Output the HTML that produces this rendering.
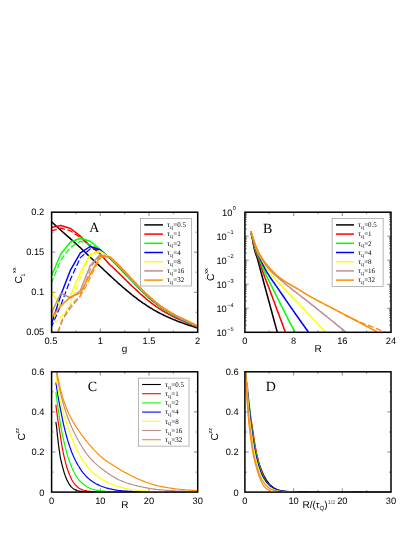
<!DOCTYPE html>
<html><head><meta charset="utf-8"><title>figure</title>
<style>html,body{margin:0;padding:0;background:#fff;}svg{display:block;}text{fill:#000;text-rendering:geometricPrecision;filter:grayscale(1);}.s{font-family:"Liberation Sans",sans-serif;}.t{font-family:"Liberation Serif",serif;}</style>
</head><body>
<svg width="415" height="537" viewBox="0 0 415 537">
<defs>
<clipPath id="cA"><rect x="51.6" y="212.2" width="146.1" height="120.10000000000002"/></clipPath>
<clipPath id="cB"><rect x="244.9" y="212.2" width="146.1" height="120.10000000000002"/></clipPath>
<clipPath id="cC"><rect x="51.6" y="371.8" width="146.1" height="120.30000000000001"/></clipPath>
<clipPath id="cD"><rect x="244.9" y="371.8" width="146.1" height="120.30000000000001"/></clipPath>
</defs>
<rect width="415" height="537" fill="#fff"/>
<path d="M100.3,332.3 v-3.8 M100.3,212.2 v3.8 M149.0,332.3 v-3.8 M149.0,212.2 v3.8 M76.0,332.3 v-2.0 M76.0,212.2 v2.0 M124.7,332.3 v-2.0 M124.7,212.2 v2.0 M173.3,332.3 v-2.0 M173.3,212.2 v2.0 M51.6,292.3 h3.8 M197.7,292.3 h-3.8 M51.6,252.2 h3.8 M197.7,252.2 h-3.8 M51.6,312.3 h2.0 M197.7,312.3 h-2.0 M51.6,272.2 h2.0 M197.7,272.2 h-2.0 M51.6,232.2 h2.0 M197.7,232.2 h-2.0" stroke="#000" stroke-width="0.45" fill="none"/>
<g clip-path="url(#cA)">
<path d="M51.0,221.3 L60.8,230.2 L70.6,238.9 L80.4,247.8 L90.2,257.2 L91.6,258.5 L93.0,259.7 L94.4,261.0 L95.8,262.3 L97.2,263.6 L98.6,264.9 L100.0,266.2 L101.4,267.5 L102.8,268.8 L104.2,270.2 L105.6,271.5 L107.0,272.8 L108.4,274.1 L109.8,275.4 L111.2,276.7 L112.6,278.0 L114.0,279.3 L115.4,280.5 L116.8,281.8 L118.2,283.1 L119.6,284.3 L121.0,285.5 L122.4,286.8 L123.8,288.0 L125.2,289.2 L126.6,290.4 L128.0,291.5 L129.4,292.7 L130.8,293.8 L132.2,295.0 L133.6,296.1 L135.0,297.2 L136.4,298.2 L137.8,299.3 L139.2,300.3 L140.6,301.3 L142.0,302.3 L143.4,303.3 L144.8,304.2 L146.2,305.2 L147.6,306.1 L149.0,307.0 L150.4,307.9 L151.8,308.7 L153.2,309.6 L154.6,310.4 L156.0,311.2 L157.4,312.0 L158.8,312.7 L160.2,313.4 L161.6,314.1 L163.0,314.8 L164.4,315.5 L165.8,316.1 L167.2,316.8 L168.6,317.4 L170.0,318.0 L171.4,318.6 L172.8,319.2 L174.2,319.8 L175.6,320.3 L177.0,320.9 L178.4,321.4 L179.8,321.9 L181.2,322.4 L182.6,323.0 L184.0,323.4 L185.4,323.9 L186.8,324.4 L188.2,324.9 L189.6,325.4 L191.0,325.8 L192.4,326.3 L193.8,326.8 L195.2,327.2 L196.6,327.7 L198.0,328.1 L198.0,328.1" fill="none" stroke="#000000" stroke-width="1.55" stroke-linejoin="round" />
<path d="M51.0,227.5 L60.8,225.4 L70.6,228.5 L80.4,236.2 L90.2,246.0 L100.0,253.7 L109.8,264.7 L111.2,266.0 L112.6,267.2 L114.0,268.5 L115.4,269.9 L116.8,271.2 L118.2,272.5 L119.6,273.9 L121.0,275.3 L122.4,276.6 L123.8,278.0 L125.2,279.4 L126.6,280.8 L128.0,282.1 L129.4,283.5 L130.8,284.9 L132.2,286.2 L133.6,287.5 L135.0,288.8 L136.4,290.1 L137.8,291.4 L139.2,292.7 L140.6,294.0 L142.0,295.2 L143.4,296.4 L144.8,297.6 L146.2,298.8 L147.6,300.0 L149.0,301.1 L150.4,302.2 L151.8,303.3 L153.2,304.3 L154.6,305.4 L156.0,306.4 L157.4,307.4 L158.8,308.3 L160.2,309.2 L161.6,310.1 L163.0,311.0 L164.4,311.8 L165.8,312.6 L167.2,313.4 L168.6,314.2 L170.0,314.9 L171.4,315.7 L172.8,316.4 L174.2,317.0 L175.6,317.7 L177.0,318.4 L178.4,319.0 L179.8,319.6 L181.2,320.2 L182.6,320.8 L184.0,321.4 L185.4,322.0 L186.8,322.6 L188.2,323.2 L189.6,323.8 L191.0,324.3 L192.4,324.9 L193.8,325.5 L195.2,326.1 L196.6,326.6 L198.0,327.2 L198.0,327.2" fill="none" stroke="#ff0000" stroke-width="1.55" stroke-linejoin="round" />
<path d="M51.0,230.9 L60.8,228.2 L70.6,230.9 L80.4,237.7 L90.2,246.3" fill="none" stroke="#ff0000" stroke-width="1.2" stroke-dasharray="6 2.4" stroke-linejoin="round" />
<path d="M51.0,277.0 L60.8,254.0 L70.6,242.0 L80.4,238.2 L90.2,241.2 L100.0,249.3 L109.8,258.5 L111.2,259.8 L112.6,261.2 L114.0,262.6 L115.4,264.0 L116.8,265.4 L118.2,266.9 L119.6,268.3 L121.0,269.8 L122.4,271.2 L123.8,272.7 L125.2,274.2 L126.6,275.6 L128.0,277.1 L129.4,278.6 L130.8,280.1 L132.2,281.6 L133.6,283.0 L135.0,284.5 L136.4,285.9 L137.8,287.4 L139.2,288.8 L140.6,290.2 L142.0,291.6 L143.4,292.9 L144.8,294.3 L146.2,295.6 L147.6,296.8 L149.0,298.1 L150.4,299.3 L151.8,300.5 L153.2,301.7 L154.6,302.8 L156.0,303.9 L157.4,305.0 L158.8,306.1 L160.2,307.1 L161.6,308.1 L163.0,309.1 L164.4,310.1 L165.8,311.0 L167.2,311.9 L168.6,312.8 L170.0,313.6 L171.4,314.5 L172.8,315.3 L174.2,316.0 L175.6,316.8 L177.0,317.5 L178.4,318.2 L179.8,318.9 L181.2,319.6 L182.6,320.2 L184.0,320.8 L185.4,321.5 L186.8,322.1 L188.2,322.7 L189.6,323.3 L191.0,323.9 L192.4,324.5 L193.8,325.1 L195.2,325.7 L196.6,326.3 L198.0,326.9 L198.0,326.9" fill="none" stroke="#00ff00" stroke-width="1.45" stroke-linejoin="round" />
<path d="M51.0,283.7 L60.8,260.1 L70.6,247.3 L80.4,241.3 L90.2,244.8 L100.0,249.6" fill="none" stroke="#00ff00" stroke-width="1.2" stroke-dasharray="6 2.4" stroke-linejoin="round" />
<path d="M51.0,325.5 L60.8,295.1 L70.6,269.8 L80.4,252.8 L90.2,246.5 L100.0,249.8 L109.8,258.0 L111.2,259.2 L112.6,260.5 L114.0,261.9 L115.4,263.2 L116.8,264.6 L118.2,266.1 L119.6,267.5 L121.0,269.0 L122.4,270.4 L123.8,271.9 L125.2,273.4 L126.6,274.9 L128.0,276.4 L129.4,277.9 L130.8,279.4 L132.2,280.8 L133.6,282.3 L135.0,283.7 L136.4,285.2 L137.8,286.6 L139.2,288.0 L140.6,289.4 L142.0,290.8 L143.4,292.1 L144.8,293.5 L146.2,294.8 L147.6,296.1 L149.0,297.4 L150.4,298.6 L151.8,299.9 L153.2,301.1 L154.6,302.2 L156.0,303.3 L157.4,304.4 L158.8,305.5 L160.2,306.5 L161.6,307.5 L163.0,308.5 L164.4,309.5 L165.8,310.4 L167.2,311.3 L168.6,312.2 L170.0,313.1 L171.4,313.9 L172.8,314.7 L174.2,315.5 L175.6,316.3 L177.0,317.1 L178.4,317.8 L179.8,318.5 L181.2,319.2 L182.6,319.9 L184.0,320.5 L185.4,321.2 L186.8,321.8 L188.2,322.4 L189.6,323.0 L191.0,323.6 L192.4,324.2 L193.8,324.8 L195.2,325.5 L196.6,326.1 L198.0,326.7 L198.0,326.7" fill="none" stroke="#0000ff" stroke-width="1.45" stroke-linejoin="round" />
<path d="M51.0,328.0 L60.8,305.2 L70.6,279.0 L80.4,257.6 L90.2,248.9 L100.0,250.0" fill="none" stroke="#0000ff" stroke-width="1.2" stroke-dasharray="6 2.4" stroke-linejoin="round" />
<path d="M51.0,290.8 L60.8,306.7 L70.6,295.5 L80.4,272.5 L90.2,254.2 L100.0,251.0 L109.8,257.5 L111.2,258.8 L112.6,260.1 L114.0,261.4 L115.4,262.8 L116.8,264.1 L118.2,265.6 L119.6,267.0 L121.0,268.5 L122.4,269.9 L123.8,271.4 L125.2,272.9 L126.6,274.4 L128.0,275.9 L129.4,277.4 L130.8,278.9 L132.2,280.4 L133.6,281.8 L135.0,283.3 L136.4,284.8 L137.8,286.2 L139.2,287.6 L140.6,289.0 L142.0,290.4 L143.4,291.7 L144.8,293.0 L146.2,294.3 L147.6,295.6 L149.0,296.9 L150.4,298.1 L151.8,299.4 L153.2,300.6 L154.6,301.7 L156.0,302.9 L157.4,304.0 L158.8,305.1 L160.2,306.2 L161.6,307.2 L163.0,308.2 L164.4,309.2 L165.8,310.1 L167.2,311.0 L168.6,311.9 L170.0,312.8 L171.4,313.6 L172.8,314.4 L174.2,315.2 L175.6,315.9 L177.0,316.7 L178.4,317.4 L179.8,318.1 L181.2,318.8 L182.6,319.4 L184.0,320.1 L185.4,320.7 L186.8,321.4 L188.2,322.0 L189.6,322.6 L191.0,323.3 L192.4,323.9 L193.8,324.5 L195.2,325.2 L196.6,325.8 L198.0,326.5 L198.0,326.5" fill="none" stroke="#ffff00" stroke-width="1.45" stroke-linejoin="round" />
<path d="M51.3,303.0 L55.9,322.5 L60.8,317.0 L65.7,311.5 L70.6,303.0 L75.5,291.0 L80.4,278.0 L85.3,266.0 L90.2,256.1 L100.0,251.8" fill="none" stroke="#ffff00" stroke-width="1.2" stroke-dasharray="6 2.4" stroke-linejoin="round" />
<path d="M51.0,313.9 L60.8,293.2 L70.6,298.0 L80.4,290.5 L90.2,265.6 L100.0,254.7 L109.8,257.2 L111.2,258.4 L112.6,259.7 L114.0,261.0 L115.4,262.3 L116.8,263.7 L118.2,265.1 L119.6,266.5 L121.0,267.9 L122.4,269.4 L123.8,270.9 L125.2,272.4 L126.6,273.9 L128.0,275.4 L129.4,276.9 L130.8,278.4 L132.2,279.9 L133.6,281.4 L135.0,282.9 L136.4,284.3 L137.8,285.8 L139.2,287.2 L140.6,288.6 L142.0,290.0 L143.4,291.4 L144.8,292.8 L146.2,294.1 L147.6,295.4 L149.0,296.7 L150.4,298.0 L151.8,299.2 L153.2,300.4 L154.6,301.6 L156.0,302.7 L157.4,303.8 L158.8,304.9 L160.2,305.9 L161.6,307.0 L163.0,307.9 L164.4,308.9 L165.8,309.8 L167.2,310.7 L168.6,311.6 L170.0,312.5 L171.4,313.3 L172.8,314.1 L174.2,314.9 L175.6,315.6 L177.0,316.4 L178.4,317.1 L179.8,317.8 L181.2,318.5 L182.6,319.2 L184.0,319.8 L185.4,320.5 L186.8,321.2 L188.2,321.8 L189.6,322.4 L191.0,323.1 L192.4,323.7 L193.8,324.4 L195.2,325.0 L196.6,325.6 L198.0,326.3 L198.0,326.3" fill="none" stroke="#bc8f8f" stroke-width="1.45" stroke-linejoin="round" />
<path d="M58.0,333.0 L63.0,319.5 L68.7,310.5 L76.0,301.4 L80.4,296.0 L85.0,284.0 L91.7,266.0 L98.0,258.0 L101.5,255.5" fill="none" stroke="#bc8f8f" stroke-width="1.2" stroke-dasharray="6 2.4" stroke-linejoin="round" />
<path d="M51.0,318.3 L60.8,305.7 L70.6,297.0 L80.4,292.9 L90.2,274.3 L100.0,256.6 L109.8,256.9 L111.2,258.0 L112.6,259.2 L114.0,260.4 L115.4,261.7 L116.8,263.0 L118.2,264.4 L119.6,265.8 L121.0,267.2 L122.4,268.7 L123.8,270.2 L125.2,271.7 L126.6,273.2 L128.0,274.7 L129.4,276.2 L130.8,277.7 L132.2,279.2 L133.6,280.7 L135.0,282.2 L136.4,283.7 L137.8,285.2 L139.2,286.6 L140.6,288.0 L142.0,289.4 L143.4,290.8 L144.8,292.2 L146.2,293.5 L147.6,294.8 L149.0,296.1 L150.4,297.4 L151.8,298.6 L153.2,299.8 L154.6,301.0 L156.0,302.2 L157.4,303.3 L158.8,304.4 L160.2,305.5 L161.6,306.5 L163.0,307.5 L164.4,308.4 L165.8,309.3 L167.2,310.2 L168.6,311.1 L170.0,311.9 L171.4,312.8 L172.8,313.5 L174.2,314.3 L175.6,315.1 L177.0,315.8 L178.4,316.5 L179.8,317.2 L181.2,317.9 L182.6,318.5 L184.0,319.2 L185.4,319.9 L186.8,320.5 L188.2,321.2 L189.6,321.9 L191.0,322.5 L192.4,323.2 L193.8,323.9 L195.2,324.7 L196.6,325.4 L198.0,326.2 L198.0,326.2" fill="none" stroke="#ff8c00" stroke-width="1.45" stroke-linejoin="round" />
<path d="M57.6,332.0 L62.5,318.7 L70.6,305.7 L80.4,295.6 L85.6,287.0 L91.7,274.5 L96.0,266.0 L101.0,257.5" fill="none" stroke="#ff8c00" stroke-width="1.2" stroke-dasharray="6 2.4" stroke-linejoin="round" />
</g>
<rect x="51.6" y="212.2" width="146.1" height="120.10000000000002" fill="none" stroke="#000" stroke-width="1.5"/>
<rect x="140.5" y="218.5" width="51" height="67.5" fill="#fff" stroke="#888" stroke-width="0.6"/>
<path d="M144.3,224.9 H162.9" stroke="#000000" stroke-width="1.5"/>
<text x="167.1" y="227.2" font-size="7" fill="#222" class="t"><tspan font-size="7.6">τ</tspan><tspan font-size="4.7" dy="1.8" dx="-0.3">Q</tspan><tspan dy="-1.8" dx="0.1">=0.5</tspan></text>
<path d="M144.3,234.1 H162.9" stroke="#ff0000" stroke-width="1.5"/>
<text x="167.1" y="236.4" font-size="7" fill="#222" class="t"><tspan font-size="7.6">τ</tspan><tspan font-size="4.7" dy="1.8" dx="-0.3">Q</tspan><tspan dy="-1.8" dx="0.1">=1</tspan></text>
<path d="M144.3,243.3 H162.9" stroke="#00ff00" stroke-width="1.5"/>
<text x="167.1" y="245.6" font-size="7" fill="#222" class="t"><tspan font-size="7.6">τ</tspan><tspan font-size="4.7" dy="1.8" dx="-0.3">Q</tspan><tspan dy="-1.8" dx="0.1">=2</tspan></text>
<path d="M144.3,252.5 H162.9" stroke="#0000ff" stroke-width="1.5"/>
<text x="167.1" y="254.8" font-size="7" fill="#222" class="t"><tspan font-size="7.6">τ</tspan><tspan font-size="4.7" dy="1.8" dx="-0.3">Q</tspan><tspan dy="-1.8" dx="0.1">=4</tspan></text>
<path d="M144.3,261.7 H162.9" stroke="#ffff00" stroke-width="1.5"/>
<text x="167.1" y="264.0" font-size="7" fill="#222" class="t"><tspan font-size="7.6">τ</tspan><tspan font-size="4.7" dy="1.8" dx="-0.3">Q</tspan><tspan dy="-1.8" dx="0.1">=8</tspan></text>
<path d="M144.3,270.9 H162.9" stroke="#bc8f8f" stroke-width="1.5"/>
<text x="167.1" y="273.2" font-size="7" fill="#222" class="t"><tspan font-size="7.6">τ</tspan><tspan font-size="4.7" dy="1.8" dx="-0.3">Q</tspan><tspan dy="-1.8" dx="0.1">=16</tspan></text>
<path d="M144.3,280.1 H162.9" stroke="#ff8c00" stroke-width="1.5"/>
<text x="167.1" y="282.4" font-size="7" fill="#222" class="t"><tspan font-size="7.6">τ</tspan><tspan font-size="4.7" dy="1.8" dx="-0.3">Q</tspan><tspan dy="-1.8" dx="0.1">=32</tspan></text>
<text x="50.9" y="343.9" font-size="9.3" text-anchor="middle" class="s" >0.5</text>
<text x="100.3" y="343.9" font-size="9.3" text-anchor="middle" class="s" >1</text>
<text x="149.0" y="343.9" font-size="9.3" text-anchor="middle" class="s" >1.5</text>
<text x="197.7" y="343.9" font-size="9.3" text-anchor="middle" class="s" >2</text>
<text x="44.3" y="335.4" font-size="9.3" text-anchor="end" class="s" >0.05</text>
<text x="44.3" y="295.4" font-size="9.3" text-anchor="end" class="s" >0.1</text>
<text x="44.3" y="255.3" font-size="9.3" text-anchor="end" class="s" >0.15</text>
<text x="44.3" y="215.3" font-size="9.3" text-anchor="end" class="s" >0.2</text>
<text x="124.5" y="352" font-size="10" text-anchor="middle" class="s" >g</text>
<g transform="translate(22.3,283.4) rotate(-90)"><text font-size="10.2" class="s">C</text><text x="7.0" y="2.5" font-size="5.4" class="s">1</text><text x="10.3" y="-6.3" font-size="5.5" class="s">xx</text></g>
<text x="94.2" y="231.8" font-size="14" text-anchor="middle" class="t" >A</text>
<path d="M293.6,332.3 v-3.8 M293.6,212.2 v3.8 M342.3,332.3 v-3.8 M342.3,212.2 v3.8 M269.2,332.3 v-2.0 M269.2,212.2 v2.0 M318.0,332.3 v-2.0 M318.0,212.2 v2.0 M366.6,332.3 v-2.0 M366.6,212.2 v2.0 M244.9,236.2 h3.8 M391,236.2 h-3.8 M244.9,260.2 h3.8 M391,260.2 h-3.8 M244.9,284.3 h3.8 M391,284.3 h-3.8 M244.9,308.3 h3.8 M391,308.3 h-3.8 M244.9,325.1 h2.0 M391,325.1 h-2.0 M244.9,320.8 h2.0 M391,320.8 h-2.0 M244.9,317.8 h2.0 M391,317.8 h-2.0 M244.9,315.5 h2.0 M391,315.5 h-2.0 M244.9,313.6 h2.0 M391,313.6 h-2.0 M244.9,312.0 h2.0 M391,312.0 h-2.0 M244.9,310.6 h2.0 M391,310.6 h-2.0 M244.9,309.4 h2.0 M391,309.4 h-2.0 M244.9,301.0 h2.0 M391,301.0 h-2.0 M244.9,296.8 h2.0 M391,296.8 h-2.0 M244.9,293.8 h2.0 M391,293.8 h-2.0 M244.9,291.5 h2.0 M391,291.5 h-2.0 M244.9,289.6 h2.0 M391,289.6 h-2.0 M244.9,288.0 h2.0 M391,288.0 h-2.0 M244.9,286.6 h2.0 M391,286.6 h-2.0 M244.9,285.4 h2.0 M391,285.4 h-2.0 M244.9,277.0 h2.0 M391,277.0 h-2.0 M244.9,272.8 h2.0 M391,272.8 h-2.0 M244.9,269.8 h2.0 M391,269.8 h-2.0 M244.9,267.5 h2.0 M391,267.5 h-2.0 M244.9,265.6 h2.0 M391,265.6 h-2.0 M244.9,264.0 h2.0 M391,264.0 h-2.0 M244.9,262.6 h2.0 M391,262.6 h-2.0 M244.9,261.3 h2.0 M391,261.3 h-2.0 M244.9,253.0 h2.0 M391,253.0 h-2.0 M244.9,248.8 h2.0 M391,248.8 h-2.0 M244.9,245.8 h2.0 M391,245.8 h-2.0 M244.9,243.5 h2.0 M391,243.5 h-2.0 M244.9,241.5 h2.0 M391,241.5 h-2.0 M244.9,239.9 h2.0 M391,239.9 h-2.0 M244.9,238.5 h2.0 M391,238.5 h-2.0 M244.9,237.3 h2.0 M391,237.3 h-2.0 M244.9,229.0 h2.0 M391,229.0 h-2.0 M244.9,224.8 h2.0 M391,224.8 h-2.0 M244.9,221.8 h2.0 M391,221.8 h-2.0 M244.9,219.4 h2.0 M391,219.4 h-2.0 M244.9,217.5 h2.0 M391,217.5 h-2.0 M244.9,215.9 h2.0 M391,215.9 h-2.0 M244.9,214.5 h2.0 M391,214.5 h-2.0 M244.9,213.3 h2.0 M391,213.3 h-2.0" stroke="#000" stroke-width="0.45" fill="none"/>
<g clip-path="url(#cB)">
<path d="M250.8,231.3 L251.1,232.8 L251.4,234.3 L251.7,235.8 L252.0,237.3 L252.4,238.8 L252.7,240.3 L253.0,241.8 L253.2,243.3 L253.5,244.8 L253.8,246.3 L254.1,247.8 L254.4,249.3 L254.8,250.8 L255.2,252.3 L255.7,253.7 L256.2,255.2 L256.7,256.6 L257.2,258.1 L257.7,259.5 L258.1,261.0 L258.5,262.5 L258.9,264.0 L259.2,265.5 L259.6,266.9 L260.0,268.4 L260.4,269.9 L260.8,271.4 L261.2,272.9 L261.6,274.4 L262.0,275.8 L262.4,277.3 L262.8,278.8 L263.2,280.3 L263.6,281.7 L264.0,283.2 L264.4,284.7 L264.8,286.2 L265.2,287.7 L265.6,289.1 L266.0,290.6 L266.4,292.1 L266.8,293.6 L267.2,295.0 L267.6,296.5 L268.0,298.0 L268.4,299.5 L268.8,301.0 L269.2,302.4 L269.6,303.9 L270.0,305.4 L270.4,306.9 L270.8,308.4 L271.2,309.8 L271.6,311.3 L272.0,312.8 L272.4,314.3 L272.8,315.7 L273.2,317.2 L273.6,318.7 L274.0,320.2 L274.4,321.7 L274.8,323.1 L275.2,324.6 L275.6,326.1 L276.0,327.6 L276.4,329.0 L276.8,330.5 L277.2,332.0" fill="none" stroke="#000000" stroke-width="1.55" stroke-linejoin="round" />
<path d="M250.8,231.3 L251.2,232.8 L251.5,234.3 L251.9,235.7 L252.2,237.2 L252.6,238.7 L252.9,240.2 L253.3,241.7 L253.6,243.2 L253.9,244.7 L254.2,246.2 L254.5,247.6 L254.9,249.1 L255.3,250.6 L255.8,252.0 L256.3,253.4 L256.9,254.8 L257.5,256.2 L258.1,257.7 L258.7,259.1 L259.2,260.5 L259.7,261.9 L260.1,263.4 L260.6,264.9 L261.0,266.3 L261.5,267.8 L261.9,269.2 L262.4,270.7 L262.9,272.1 L263.4,273.5 L264.0,274.9 L264.5,276.4 L265.0,277.8 L265.6,279.2 L266.1,280.6 L266.7,282.1 L267.2,283.5 L267.8,284.9 L268.3,286.3 L268.9,287.8 L269.4,289.2 L269.9,290.6 L270.5,292.0 L271.0,293.5 L271.5,294.9 L272.1,296.3 L272.6,297.7 L273.1,299.2 L273.7,300.6 L274.2,302.0 L274.7,303.4 L275.2,304.9 L275.8,306.3 L276.3,307.7 L276.8,309.2 L277.4,310.6 L277.9,312.0 L278.4,313.4 L279.0,314.9 L279.5,316.3 L280.0,317.7 L280.5,319.1 L281.1,320.6 L281.6,322.0 L282.1,323.4 L282.7,324.9 L283.2,326.3 L283.7,327.7 L284.2,329.1 L284.8,330.6 L285.3,332.0" fill="none" stroke="#ff0000" stroke-width="1.55" stroke-linejoin="round" />
<path d="M250.8,231.3 L251.2,232.8 L251.6,234.3 L252.0,235.7 L252.4,237.2 L252.8,238.7 L253.1,240.2 L253.5,241.7 L253.9,243.2 L254.2,244.7 L254.6,246.2 L254.9,247.7 L255.3,249.1 L255.8,250.6 L256.3,252.0 L256.9,253.4 L257.5,254.8 L258.2,256.2 L258.8,257.6 L259.5,259.0 L260.1,260.4 L260.6,261.8 L261.2,263.3 L261.7,264.7 L262.3,266.1 L262.8,267.6 L263.4,269.0 L264.0,270.4 L264.6,271.8 L265.2,273.2 L265.9,274.6 L266.5,276.0 L267.2,277.3 L267.8,278.7 L268.5,280.1 L269.2,281.5 L269.9,282.8 L270.6,284.2 L271.3,285.6 L272.0,286.9 L272.7,288.3 L273.3,289.7 L274.0,291.1 L274.7,292.4 L275.4,293.8 L276.1,295.2 L276.8,296.5 L277.4,297.9 L278.1,299.3 L278.8,300.7 L279.5,302.0 L280.2,303.4 L280.9,304.8 L281.6,306.1 L282.3,307.5 L283.0,308.9 L283.6,310.2 L284.3,311.6 L285.0,313.0 L285.7,314.3 L286.4,315.7 L287.1,317.0 L287.8,318.4 L288.5,319.8 L289.2,321.1 L289.9,322.5 L290.6,323.9 L291.3,325.2 L292.1,326.6 L292.8,327.9 L293.5,329.3 L294.2,330.6 L294.9,332.0" fill="none" stroke="#00ff00" stroke-width="1.55" stroke-linejoin="round" />
<path d="M250.8,231.3 L251.2,232.8 L251.7,234.3 L252.1,235.7 L252.5,237.2 L252.9,238.7 L253.3,240.2 L253.8,241.7 L254.1,243.2 L254.5,244.7 L254.9,246.1 L255.3,247.6 L255.8,249.1 L256.3,250.5 L256.9,251.9 L257.5,253.3 L258.2,254.7 L258.9,256.1 L259.6,257.5 L260.3,258.8 L261.0,260.2 L261.7,261.6 L262.3,263.0 L262.9,264.4 L263.6,265.8 L264.3,267.2 L264.9,268.6 L265.7,269.9 L266.4,271.3 L267.2,272.6 L268.0,273.9 L268.8,275.2 L269.6,276.5 L270.5,277.8 L271.3,279.0 L272.2,280.3 L273.1,281.6 L274.0,282.8 L274.9,284.1 L275.8,285.4 L276.7,286.6 L277.5,287.9 L278.4,289.1 L279.3,290.4 L280.1,291.7 L281.0,293.0 L281.9,294.2 L282.8,295.5 L283.6,296.8 L284.5,298.0 L285.4,299.3 L286.2,300.6 L287.1,301.8 L288.0,303.1 L288.9,304.4 L289.7,305.6 L290.6,306.9 L291.5,308.2 L292.4,309.4 L293.2,310.7 L294.1,311.9 L295.0,313.2 L295.9,314.5 L296.8,315.7 L297.7,317.0 L298.6,318.2 L299.4,319.5 L300.3,320.7 L301.2,322.0 L302.1,323.3 L303.0,324.5 L303.9,325.8 L304.8,327.0 L305.7,328.3 L306.6,329.5 L307.5,330.8 L308.4,332.0" fill="none" stroke="#0000ff" stroke-width="1.55" stroke-linejoin="round" />
<path d="M250.8,231.3 L251.3,232.8 L251.7,234.2 L252.2,235.7 L252.6,237.1 L253.1,238.6 L253.5,240.1 L254.0,241.5 L254.4,243.0 L254.8,244.5 L255.2,246.0 L255.7,247.4 L256.2,248.9 L256.7,250.3 L257.3,251.7 L258.0,253.1 L258.7,254.4 L259.4,255.8 L260.2,257.1 L261.0,258.4 L261.8,259.7 L262.5,261.1 L263.3,262.4 L264.1,263.7 L264.9,265.0 L265.7,266.3 L266.5,267.6 L267.3,268.9 L268.2,270.2 L269.1,271.4 L270.0,272.6 L270.9,273.9 L271.8,275.1 L272.8,276.3 L273.7,277.5 L274.7,278.7 L275.7,279.9 L276.7,281.0 L277.7,282.1 L278.8,283.2 L279.8,284.3 L280.9,285.4 L282.0,286.5 L283.1,287.6 L284.2,288.6 L285.3,289.7 L286.3,290.8 L287.4,292.0 L288.4,293.1 L289.5,294.2 L290.5,295.3 L291.6,296.4 L292.7,297.5 L293.7,298.6 L294.8,299.7 L295.8,300.8 L296.9,301.9 L297.9,303.0 L299.0,304.1 L300.1,305.2 L301.1,306.3 L302.2,307.4 L303.2,308.6 L304.3,309.7 L305.3,310.8 L306.4,311.9 L307.4,313.0 L308.5,314.1 L309.5,315.2 L310.6,316.3 L311.6,317.5 L312.7,318.6 L313.7,319.7 L314.8,320.8 L315.8,321.9 L316.9,323.0 L317.9,324.2 L318.9,325.3 L320.0,326.4 L321.0,327.5 L322.1,328.6 L323.1,329.8 L324.2,330.9 L325.2,332.0" fill="none" stroke="#ffff00" stroke-width="1.55" stroke-linejoin="round" />
<path d="M250.8,231.3 L251.3,232.8 L251.7,234.2 L252.2,235.7 L252.7,237.1 L253.1,238.5 L253.6,240.0 L254.1,241.4 L254.5,242.9 L255.0,244.4 L255.5,245.8 L255.9,247.3 L256.5,248.7 L257.0,250.1 L257.7,251.5 L258.3,252.8 L259.1,254.2 L259.8,255.5 L260.6,256.8 L261.4,258.1 L262.2,259.4 L263.0,260.7 L263.9,261.9 L264.7,263.2 L265.6,264.5 L266.5,265.7 L267.4,266.9 L268.4,268.1 L269.4,269.3 L270.4,270.4 L271.4,271.5 L272.4,272.6 L273.5,273.6 L274.7,274.7 L275.8,275.7 L276.9,276.7 L278.1,277.7 L279.2,278.7 L280.4,279.7 L281.5,280.7 L282.7,281.7 L283.9,282.7 L285.0,283.7 L286.2,284.6 L287.4,285.6 L288.6,286.5 L289.8,287.5 L290.9,288.4 L292.1,289.4 L293.3,290.3 L294.6,291.3 L295.8,292.2 L297.0,293.1 L298.2,294.0 L299.4,295.0 L300.6,295.9 L301.8,296.8 L303.0,297.8 L304.2,298.7 L305.4,299.6 L306.6,300.6 L307.8,301.5 L309.0,302.4 L310.2,303.4 L311.4,304.3 L312.6,305.3 L313.8,306.2 L315.0,307.2 L316.2,308.1 L317.4,309.1 L318.5,310.0 L319.7,311.0 L320.9,311.9 L322.1,312.9 L323.3,313.8 L324.5,314.8 L325.7,315.7 L326.9,316.7 L328.0,317.7 L329.2,318.6 L330.4,319.6 L331.6,320.5 L332.8,321.5 L334.0,322.4 L335.1,323.4 L336.3,324.3 L337.5,325.3 L338.7,326.3 L339.9,327.2 L341.1,328.2 L342.3,329.1 L343.4,330.1 L344.6,331.0 L345.8,332.0" fill="none" stroke="#bc8f8f" stroke-width="1.55" stroke-linejoin="round" />
<path d="M250.8,231.3 L251.3,232.8 L251.7,234.2 L252.2,235.6 L252.7,237.1 L253.2,238.5 L253.7,240.0 L254.2,241.4 L254.7,242.8 L255.2,244.3 L255.7,245.7 L256.3,247.1 L256.9,248.5 L257.5,249.9 L258.1,251.3 L258.8,252.6 L259.5,254.0 L260.3,255.3 L261.1,256.6 L261.9,257.9 L262.7,259.2 L263.6,260.4 L264.5,261.6 L265.4,262.9 L266.3,264.0 L267.3,265.2 L268.3,266.4 L269.3,267.5 L270.3,268.7 L271.3,269.8 L272.4,270.9 L273.4,272.0 L274.5,273.1 L275.6,274.2 L276.7,275.2 L277.8,276.2 L279.0,277.2 L280.2,278.1 L281.4,279.0 L282.7,279.9 L283.9,280.7 L285.2,281.6 L286.5,282.4 L287.8,283.2 L289.1,284.0 L290.4,284.7 L291.7,285.5 L293.0,286.3 L294.4,287.0 L295.7,287.8 L297.0,288.5 L298.3,289.3 L299.6,290.1 L300.9,290.9 L302.2,291.7 L303.5,292.5 L304.8,293.3 L306.1,294.1 L307.4,294.9 L308.7,295.6 L310.0,296.4 L311.3,297.2 L312.7,297.9 L314.0,298.6 L315.3,299.3 L316.7,300.1 L318.0,300.8 L319.4,301.5 L320.7,302.2 L322.1,302.9 L323.4,303.6 L324.8,304.3 L326.1,305.0 L327.5,305.7 L328.8,306.4 L330.2,307.1 L331.5,307.8 L332.9,308.5 L334.2,309.2 L335.6,309.9 L336.9,310.6 L338.3,311.3 L339.6,312.0 L341.0,312.7 L342.3,313.4 L343.7,314.1 L345.0,314.8 L346.4,315.5 L347.7,316.2 L349.1,316.9 L350.4,317.6 L351.7,318.3 L353.1,319.0 L354.4,319.7 L355.8,320.5 L357.1,321.2 L358.5,321.9 L359.8,322.6 L361.1,323.3 L362.5,324.0 L363.8,324.8 L365.2,325.5 L366.5,326.2 L367.8,326.9 L369.2,327.7 L370.5,328.4 L371.9,329.1 L373.2,329.8 L374.5,330.5 L375.9,331.3 L377.2,332.0" fill="none" stroke="#ff8c00" stroke-width="1.55" stroke-linejoin="round" />
<path d="M345.0,315.0 L346.4,315.8 L347.8,316.5 L349.3,317.2 L350.7,318.0 L352.1,318.7 L353.6,319.3 L355.1,320.0 L356.5,320.7 L358.0,321.3 L359.5,321.9 L360.9,322.5 L362.4,323.1 L363.9,323.7 L365.4,324.3 L366.9,324.8 L368.4,325.4 L369.9,326.0 L371.4,326.6 L372.9,327.2 L374.4,327.8 L375.9,328.4 L377.4,329.0 L378.9,329.6 L380.3,330.2 L381.8,330.8 L383.3,331.4 L384.8,332.0" fill="none" stroke="#ff8c00" stroke-width="1.4" stroke-dasharray="6 2.4" stroke-linejoin="round" />
</g>
<rect x="244.9" y="212.2" width="146.1" height="120.10000000000002" fill="none" stroke="#000" stroke-width="1.5"/>
<rect x="332.1" y="218.5" width="51" height="67.9" fill="#fff" stroke="#888" stroke-width="0.6"/>
<path d="M336,224.9 H354" stroke="#000000" stroke-width="1.5"/>
<text x="357.9" y="227.2" font-size="7" fill="#222" class="t"><tspan font-size="7.6">τ</tspan><tspan font-size="4.7" dy="1.8" dx="-0.3">Q</tspan><tspan dy="-1.8" dx="0.1">=0.5</tspan></text>
<path d="M336,234.1 H354" stroke="#ff0000" stroke-width="1.5"/>
<text x="357.9" y="236.4" font-size="7" fill="#222" class="t"><tspan font-size="7.6">τ</tspan><tspan font-size="4.7" dy="1.8" dx="-0.3">Q</tspan><tspan dy="-1.8" dx="0.1">=1</tspan></text>
<path d="M336,243.3 H354" stroke="#00ff00" stroke-width="1.5"/>
<text x="357.9" y="245.6" font-size="7" fill="#222" class="t"><tspan font-size="7.6">τ</tspan><tspan font-size="4.7" dy="1.8" dx="-0.3">Q</tspan><tspan dy="-1.8" dx="0.1">=2</tspan></text>
<path d="M336,252.5 H354" stroke="#0000ff" stroke-width="1.5"/>
<text x="357.9" y="254.8" font-size="7" fill="#222" class="t"><tspan font-size="7.6">τ</tspan><tspan font-size="4.7" dy="1.8" dx="-0.3">Q</tspan><tspan dy="-1.8" dx="0.1">=4</tspan></text>
<path d="M336,261.7 H354" stroke="#ffff00" stroke-width="1.5"/>
<text x="357.9" y="264.0" font-size="7" fill="#222" class="t"><tspan font-size="7.6">τ</tspan><tspan font-size="4.7" dy="1.8" dx="-0.3">Q</tspan><tspan dy="-1.8" dx="0.1">=8</tspan></text>
<path d="M336,270.9 H354" stroke="#bc8f8f" stroke-width="1.5"/>
<text x="357.9" y="273.2" font-size="7" fill="#222" class="t"><tspan font-size="7.6">τ</tspan><tspan font-size="4.7" dy="1.8" dx="-0.3">Q</tspan><tspan dy="-1.8" dx="0.1">=16</tspan></text>
<path d="M336,280.1 H354" stroke="#ff8c00" stroke-width="1.5"/>
<text x="357.9" y="282.4" font-size="7" fill="#222" class="t"><tspan font-size="7.6">τ</tspan><tspan font-size="4.7" dy="1.8" dx="-0.3">Q</tspan><tspan dy="-1.8" dx="0.1">=32</tspan></text>
<text x="244.9" y="343.9" font-size="9.3" text-anchor="middle" class="s" >0</text>
<text x="293.6" y="343.9" font-size="9.3" text-anchor="middle" class="s" >8</text>
<text x="342.3" y="343.9" font-size="9.3" text-anchor="middle" class="s" >16</text>
<text x="391.0" y="343.9" font-size="9.3" text-anchor="middle" class="s" >24</text>
<text x="222.0" y="215.5" font-size="9.3" class="s">10<tspan font-size="5.6" dy="-5.1" dx="0.4">0</tspan></text>
<text x="216.4" y="239.5" font-size="9.3" class="s">10<tspan font-size="5.6" dy="-5.1" dx="0.4">−1</tspan></text>
<text x="216.4" y="263.5" font-size="9.3" class="s">10<tspan font-size="5.6" dy="-5.1" dx="0.4">−2</tspan></text>
<text x="216.4" y="287.6" font-size="9.3" class="s">10<tspan font-size="5.6" dy="-5.1" dx="0.4">−3</tspan></text>
<text x="216.4" y="311.6" font-size="9.3" class="s">10<tspan font-size="5.6" dy="-5.1" dx="0.4">−4</tspan></text>
<text x="216.4" y="335.6" font-size="9.3" class="s">10<tspan font-size="5.6" dy="-5.1" dx="0.4">−5</tspan></text>
<text x="318.2" y="352" font-size="10" text-anchor="middle" class="s" >R</text>
<g transform="translate(213.9,281) rotate(-90)"><text font-size="10.2" class="s">C</text><text x="7.3" y="-6.1" font-size="5.5" class="s">xx</text></g>
<text x="267.7" y="232.6" font-size="14" text-anchor="middle" class="t" >B</text>
<path d="M100.3,492.1 v-3.8 M100.3,371.8 v3.8 M149.0,492.1 v-3.8 M149.0,371.8 v3.8 M76.0,492.1 v-2.0 M76.0,371.8 v2.0 M124.7,492.1 v-2.0 M124.7,371.8 v2.0 M173.3,492.1 v-2.0 M173.3,371.8 v2.0 M51.6,452.0 h3.8 M197.7,452.0 h-3.8 M51.6,411.9 h3.8 M197.7,411.9 h-3.8 M51.6,472.1 h2.0 M197.7,472.1 h-2.0 M51.6,432.0 h2.0 M197.7,432.0 h-2.0 M51.6,391.9 h2.0 M197.7,391.9 h-2.0" stroke="#000" stroke-width="0.45" fill="none"/>
<g clip-path="url(#cC)">
<path d="M55.9,422.0 L56.1,423.5 L56.3,425.0 L56.5,426.5 L56.7,428.0 L56.9,429.5 L57.0,431.0 L57.2,432.5 L57.3,434.0 L57.4,435.5 L57.6,437.0 L57.8,438.5 L58.0,440.0 L58.1,441.5 L58.3,443.0 L58.5,444.6 L58.7,446.1 L58.9,447.6 L59.1,449.1 L59.3,450.6 L59.6,452.1 L59.8,453.6 L60.0,455.0 L60.2,456.5 L60.5,458.0 L60.8,459.5 L61.1,461.0 L61.5,462.5 L61.8,463.9 L62.2,465.4 L62.6,466.9 L63.0,468.3 L63.4,469.8 L63.8,471.3 L64.2,472.7 L64.7,474.1 L65.2,475.6 L65.7,477.0 L66.3,478.4 L66.9,479.8 L67.6,481.2 L68.3,482.5 L69.0,483.8 L69.9,485.1 L70.8,486.3 L71.8,487.4 L73.0,488.4 L74.2,489.3 L75.6,489.9 L77.0,490.5 L78.5,490.9 L80.0,491.2 L81.4,491.3 L82.9,491.5 L84.5,491.6 L86.0,491.7 L87.5,491.7 L89.0,491.8 L90.5,491.8 L92.0,491.8 L93.6,491.8 L95.1,491.8 L96.6,491.8 L98.1,491.8 L99.6,491.8 L101.1,491.8 L102.6,491.9 L104.1,491.9 L105.6,491.9 L107.2,491.9 L108.7,491.9 L110.2,491.9 L111.7,491.9 L113.2,491.9 L114.7,491.9 L116.2,491.9 L117.7,491.9 L119.3,491.9 L120.8,491.9 L122.3,491.9 L123.8,491.9 L125.3,491.9 L126.8,491.9 L128.3,491.9 L129.8,491.9 L131.4,491.9 L132.9,491.9 L134.4,491.9 L135.9,492.0 L137.4,492.0 L138.9,492.0 L140.4,492.0 L142.0,492.0 L143.5,492.0 L145.0,492.0 L146.5,492.0 L148.0,492.0 L149.5,492.0 L151.0,492.0 L152.6,492.0 L154.1,492.0 L155.6,492.0 L157.1,492.0 L158.6,492.0 L160.1,492.0 L161.6,492.0 L163.1,492.0 L164.7,492.0 L166.2,492.0 L167.7,492.0 L169.2,492.0 L170.7,492.0 L172.2,492.0 L173.8,492.0 L175.3,492.0 L176.8,492.0 L178.3,492.0 L179.8,492.0 L181.3,492.0 L182.8,492.0 L184.4,492.0 L185.9,492.0 L187.4,492.0 L188.9,492.0 L190.4,492.0 L191.9,492.0 L193.5,492.0 L195.0,492.0 L196.5,492.0 L198.0,492.0" fill="none" stroke="#000000" stroke-width="1.2" stroke-linejoin="round" />
<path d="M55.9,404.6 L56.1,406.1 L56.2,407.6 L56.4,409.1 L56.6,410.6 L56.8,412.1 L57.0,413.6 L57.2,415.1 L57.4,416.6 L57.6,418.1 L57.8,419.6 L58.1,421.1 L58.3,422.6 L58.6,424.1 L58.8,425.6 L59.1,427.1 L59.3,428.6 L59.5,430.1 L59.7,431.6 L60.0,433.1 L60.2,434.6 L60.4,436.1 L60.6,437.6 L60.9,439.1 L61.1,440.6 L61.3,442.1 L61.6,443.6 L61.8,445.1 L62.1,446.6 L62.3,448.1 L62.6,449.6 L62.9,451.1 L63.2,452.6 L63.5,454.0 L63.8,455.5 L64.2,457.0 L64.5,458.5 L64.9,460.0 L65.2,461.4 L65.6,462.9 L66.0,464.4 L66.4,465.8 L66.8,467.3 L67.3,468.7 L67.8,470.2 L68.3,471.6 L68.9,473.0 L69.5,474.4 L70.0,475.8 L70.6,477.2 L71.3,478.6 L71.9,480.0 L72.7,481.3 L73.5,482.5 L74.4,483.8 L75.4,484.9 L76.5,486.0 L77.6,487.0 L78.8,487.9 L80.1,488.7 L81.5,489.4 L82.9,490.0 L84.4,490.4 L85.8,490.7 L87.3,491.0 L88.8,491.3 L90.3,491.4 L91.9,491.5 L93.4,491.7 L94.9,491.7 L96.4,491.8 L97.9,491.9 L99.4,491.9 L101.0,491.9 L102.5,491.9 L104.0,491.9 L105.5,491.9 L107.0,491.9 L108.5,491.9 L110.0,491.9 L111.6,491.9 L113.1,491.9 L114.6,491.9 L116.1,491.9 L117.6,491.9 L119.1,491.9 L120.7,491.9 L122.2,491.9 L123.7,492.0 L125.2,492.0 L126.7,492.0 L128.2,492.0 L129.7,492.0 L131.3,492.0 L132.8,492.0 L134.3,492.0 L135.8,492.0 L137.3,492.0 L138.8,492.0 L140.4,492.0 L141.9,492.0 L143.4,492.0 L144.9,492.0 L146.4,492.0 L147.9,492.0 L149.5,492.0 L151.0,492.0 L152.5,492.0 L154.0,492.0 L155.5,492.0 L157.0,492.0 L158.6,492.0 L160.1,492.0 L161.6,492.0 L163.1,492.0 L164.6,492.0 L166.1,492.0 L167.7,492.0 L169.2,492.0 L170.7,492.0 L172.2,492.0 L173.7,492.0 L175.2,492.0 L176.8,492.0 L178.3,492.0 L179.8,492.0 L181.3,492.0 L182.8,492.0 L184.3,492.0 L185.9,492.0 L187.4,492.0 L188.9,492.0 L190.4,492.0 L191.9,492.0 L193.4,492.0 L195.0,492.0 L196.5,492.0 L198.0,492.0" fill="none" stroke="#ff0000" stroke-width="1.2" stroke-linejoin="round" />
<path d="M55.9,392.1 L56.1,393.6 L56.3,395.1 L56.5,396.6 L56.7,398.1 L56.9,399.6 L57.1,401.1 L57.3,402.6 L57.5,404.1 L57.7,405.6 L57.9,407.1 L58.1,408.6 L58.4,410.1 L58.6,411.6 L58.8,413.1 L59.0,414.6 L59.2,416.1 L59.4,417.7 L59.7,419.2 L59.9,420.7 L60.1,422.1 L60.4,423.6 L60.6,425.1 L60.9,426.6 L61.1,428.1 L61.4,429.6 L61.7,431.1 L62.0,432.6 L62.3,434.1 L62.6,435.6 L62.9,437.0 L63.2,438.5 L63.6,440.0 L63.9,441.5 L64.3,443.0 L64.6,444.4 L65.0,445.9 L65.3,447.4 L65.7,448.9 L66.1,450.3 L66.5,451.8 L66.9,453.3 L67.3,454.7 L67.7,456.2 L68.2,457.6 L68.7,459.1 L69.1,460.5 L69.7,461.9 L70.2,463.3 L70.8,464.7 L71.4,466.2 L71.9,467.5 L72.5,468.9 L73.2,470.3 L73.8,471.7 L74.5,473.1 L75.2,474.4 L76.0,475.7 L76.8,477.0 L77.7,478.3 L78.6,479.5 L79.6,480.6 L80.6,481.7 L81.7,482.7 L82.9,483.7 L84.1,484.7 L85.3,485.5 L86.6,486.4 L87.9,487.2 L89.2,488.0 L90.6,488.5 L92.0,489.0 L93.5,489.4 L95.0,489.8 L96.5,490.1 L97.9,490.4 L99.4,490.6 L100.9,490.8 L102.5,491.1 L104.0,491.2 L105.5,491.4 L107.0,491.5 L108.5,491.5 L110.0,491.5 L111.5,491.5 L113.0,491.6 L114.5,491.6 L116.1,491.6 L117.6,491.6 L119.1,491.6 L120.6,491.7 L122.1,491.7 L123.6,491.7 L125.1,491.7 L126.6,491.7 L128.2,491.7 L129.7,491.7 L131.2,491.8 L132.7,491.8 L134.2,491.8 L135.7,491.8 L137.2,491.8 L138.7,491.8 L140.3,491.8 L141.8,491.8 L143.3,491.9 L144.8,491.9 L146.3,491.9 L147.8,491.9 L149.3,491.9 L150.9,491.9 L152.4,491.9 L153.9,491.9 L155.4,491.9 L156.9,491.9 L158.4,491.9 L160.0,491.9 L161.5,491.9 L163.0,491.9 L164.5,492.0 L166.0,492.0 L167.6,492.0 L169.1,492.0 L170.6,492.0 L172.1,492.0 L173.6,492.0 L175.2,492.0 L176.7,492.0 L178.2,492.0 L179.7,492.0 L181.2,492.0 L182.8,492.0 L184.3,492.0 L185.8,492.0 L187.3,492.0 L188.9,492.0 L190.4,492.0 L191.9,492.0 L193.4,492.0 L194.9,492.0 L196.5,492.0 L198.0,492.0" fill="none" stroke="#00ff00" stroke-width="1.2" stroke-linejoin="round" />
<path d="M55.9,382.5 L56.1,384.0 L56.3,385.5 L56.6,387.0 L56.8,388.5 L57.0,390.0 L57.3,391.5 L57.5,393.0 L57.7,394.5 L58.0,396.0 L58.3,397.5 L58.5,399.0 L58.8,400.5 L59.1,402.0 L59.3,403.4 L59.6,404.9 L59.9,406.4 L60.2,407.9 L60.5,409.4 L60.8,410.9 L61.1,412.4 L61.4,413.9 L61.7,415.3 L62.0,416.8 L62.3,418.3 L62.6,419.8 L62.9,421.3 L63.2,422.8 L63.5,424.3 L63.9,425.7 L64.2,427.2 L64.6,428.7 L64.9,430.1 L65.3,431.6 L65.7,433.1 L66.1,434.6 L66.5,436.0 L66.9,437.5 L67.3,438.9 L67.7,440.4 L68.2,441.8 L68.6,443.3 L69.1,444.7 L69.6,446.2 L70.1,447.6 L70.6,449.0 L71.1,450.5 L71.6,451.9 L72.2,453.3 L72.8,454.7 L73.4,456.1 L74.0,457.4 L74.7,458.8 L75.3,460.2 L76.0,461.5 L76.7,462.9 L77.5,464.2 L78.2,465.5 L79.0,466.8 L79.8,468.1 L80.6,469.4 L81.5,470.6 L82.4,471.9 L83.3,473.1 L84.3,474.2 L85.3,475.4 L86.3,476.5 L87.4,477.5 L88.6,478.6 L89.7,479.5 L90.9,480.4 L92.1,481.3 L93.4,482.2 L94.7,483.0 L96.0,483.7 L97.4,484.4 L98.8,485.1 L100.1,485.7 L101.5,486.3 L103.0,486.8 L104.4,487.3 L105.8,487.8 L107.3,488.2 L108.8,488.6 L110.2,488.9 L111.7,489.2 L113.2,489.5 L114.7,489.8 L116.2,490.1 L117.7,490.3 L119.2,490.5 L120.7,490.6 L122.2,490.8 L123.7,491.0 L125.2,491.1 L126.8,491.2 L128.3,491.3 L129.8,491.4 L131.3,491.4 L132.8,491.5 L134.3,491.5 L135.8,491.5 L137.3,491.5 L138.9,491.6 L140.4,491.6 L141.9,491.6 L143.4,491.6 L144.9,491.7 L146.4,491.7 L147.9,491.7 L149.4,491.7 L151.0,491.7 L152.5,491.8 L154.0,491.8 L155.5,491.8 L157.0,491.8 L158.5,491.8 L160.1,491.8 L161.6,491.8 L163.1,491.9 L164.6,491.9 L166.1,491.9 L167.6,491.9 L169.1,491.9 L170.7,491.9 L172.2,491.9 L173.7,491.9 L175.2,491.9 L176.7,492.0 L178.2,492.0 L179.8,492.0 L181.3,492.0 L182.8,492.0 L184.3,492.0 L185.8,492.0 L187.4,492.0 L188.9,492.0 L190.4,492.0 L191.9,492.0 L193.4,492.0 L195.0,492.0 L196.5,492.0 L198.0,492.0" fill="none" stroke="#0000ff" stroke-width="1.2" stroke-linejoin="round" />
<path d="M55.9,375.7 L56.1,377.2 L56.4,378.7 L56.6,380.2 L56.9,381.7 L57.1,383.2 L57.4,384.6 L57.6,386.1 L57.9,387.6 L58.2,389.1 L58.4,390.6 L58.7,392.1 L59.0,393.6 L59.3,395.1 L59.5,396.5 L59.8,398.0 L60.1,399.5 L60.4,401.0 L60.7,402.5 L61.1,403.9 L61.4,405.4 L61.7,406.9 L62.1,408.3 L62.5,409.8 L62.9,411.3 L63.3,412.7 L63.7,414.2 L64.1,415.6 L64.6,417.1 L65.0,418.5 L65.5,419.9 L66.0,421.4 L66.4,422.8 L66.9,424.3 L67.4,425.7 L67.9,427.1 L68.4,428.5 L68.9,430.0 L69.4,431.4 L69.9,432.8 L70.4,434.3 L70.9,435.7 L71.4,437.1 L72.0,438.5 L72.5,439.9 L73.1,441.3 L73.6,442.7 L74.2,444.1 L74.8,445.5 L75.4,446.9 L76.0,448.3 L76.7,449.6 L77.3,451.0 L78.0,452.3 L78.8,453.7 L79.5,455.0 L80.3,456.3 L81.0,457.6 L81.8,458.9 L82.7,460.1 L83.5,461.4 L84.4,462.6 L85.3,463.8 L86.3,465.0 L87.2,466.2 L88.2,467.3 L89.2,468.5 L90.2,469.6 L91.2,470.7 L92.3,471.8 L93.4,472.9 L94.5,473.9 L95.6,474.8 L96.8,475.8 L98.0,476.7 L99.3,477.6 L100.5,478.4 L101.8,479.2 L103.1,480.0 L104.4,480.7 L105.7,481.4 L107.1,482.1 L108.5,482.8 L109.9,483.4 L111.3,484.0 L112.7,484.5 L114.1,485.0 L115.5,485.5 L116.9,486.0 L118.4,486.5 L119.8,486.9 L121.3,487.3 L122.7,487.7 L124.2,488.1 L125.7,488.4 L127.2,488.7 L128.6,489.0 L130.1,489.3 L131.6,489.5 L133.1,489.7 L134.6,490.0 L136.1,490.2 L137.6,490.3 L139.1,490.5 L140.6,490.6 L142.1,490.8 L143.6,490.9 L145.1,491.0 L146.6,491.2 L148.2,491.3 L149.7,491.4 L151.2,491.5 L152.7,491.5 L154.2,491.6 L155.7,491.6 L157.2,491.6 L158.7,491.7 L160.2,491.7 L161.7,491.7 L163.2,491.7 L164.8,491.8 L166.3,491.8 L167.8,491.8 L169.3,491.8 L170.8,491.8 L172.3,491.9 L173.8,491.9 L175.3,491.9 L176.8,491.9 L178.3,491.9 L179.9,491.9 L181.4,491.9 L182.9,492.0 L184.4,492.0 L185.9,492.0 L187.4,492.0 L188.9,492.0 L190.4,492.0 L191.9,492.0 L193.5,492.0 L195.0,492.0 L196.5,492.0 L198.0,492.0" fill="none" stroke="#ffff00" stroke-width="1.2" stroke-linejoin="round" />
<path d="M55.4,366.0 L55.6,367.5 L55.9,369.0 L56.1,370.5 L56.4,372.0 L56.6,373.5 L56.9,375.0 L57.1,376.4 L57.4,377.9 L57.7,379.4 L58.0,380.9 L58.3,382.4 L58.6,383.9 L58.9,385.4 L59.2,386.8 L59.5,388.3 L59.8,389.8 L60.1,391.3 L60.5,392.7 L60.8,394.2 L61.2,395.7 L61.5,397.1 L61.9,398.6 L62.3,400.1 L62.7,401.5 L63.1,403.0 L63.5,404.5 L63.9,405.9 L64.4,407.4 L64.8,408.8 L65.3,410.2 L65.7,411.7 L66.2,413.1 L66.7,414.5 L67.2,416.0 L67.7,417.4 L68.3,418.8 L68.8,420.2 L69.4,421.6 L70.0,423.0 L70.5,424.4 L71.1,425.8 L71.7,427.2 L72.4,428.6 L73.0,429.9 L73.6,431.3 L74.3,432.7 L74.9,434.0 L75.6,435.4 L76.3,436.7 L77.0,438.1 L77.7,439.4 L78.4,440.8 L79.2,442.1 L79.9,443.4 L80.7,444.7 L81.5,446.0 L82.3,447.3 L83.1,448.6 L83.9,449.8 L84.7,451.1 L85.6,452.3 L86.5,453.6 L87.4,454.8 L88.3,456.0 L89.3,457.2 L90.3,458.3 L91.3,459.4 L92.3,460.5 L93.4,461.5 L94.5,462.6 L95.6,463.6 L96.8,464.6 L97.9,465.6 L99.1,466.6 L100.2,467.5 L101.4,468.5 L102.6,469.4 L103.8,470.3 L105.0,471.2 L106.3,472.1 L107.5,473.0 L108.8,473.8 L110.0,474.6 L111.3,475.5 L112.6,476.3 L113.9,477.1 L115.2,477.9 L116.5,478.6 L117.9,479.3 L119.2,480.0 L120.6,480.5 L122.0,481.1 L123.4,481.7 L124.8,482.2 L126.2,482.7 L127.6,483.2 L129.1,483.7 L130.5,484.1 L132.0,484.5 L133.5,485.0 L134.9,485.4 L136.4,485.7 L137.9,486.1 L139.4,486.4 L140.8,486.7 L142.3,487.0 L143.8,487.3 L145.3,487.6 L146.8,487.9 L148.2,488.2 L149.7,488.4 L151.2,488.7 L152.7,488.9 L154.2,489.1 L155.7,489.3 L157.2,489.5 L158.7,489.6 L160.2,489.8 L161.7,489.9 L163.3,490.0 L164.8,490.2 L166.3,490.3 L167.8,490.4 L169.3,490.5 L170.8,490.6 L172.3,490.7 L173.8,490.8 L175.3,490.9 L176.8,491.0 L178.4,491.0 L179.9,491.1 L181.4,491.1 L182.9,491.2 L184.4,491.3 L185.9,491.3 L187.4,491.4 L188.9,491.4 L190.4,491.5 L191.9,491.5 L193.5,491.5 L195.0,491.6 L196.5,491.6 L198.0,491.6" fill="none" stroke="#bc8f8f" stroke-width="1.2" stroke-linejoin="round" />
<path d="M55.9,366.0 L56.1,367.5 L56.4,369.0 L56.6,370.5 L56.9,372.0 L57.2,373.5 L57.4,375.0 L57.7,376.5 L58.0,378.0 L58.3,379.5 L58.6,381.0 L58.9,382.5 L59.2,383.9 L59.5,385.4 L59.9,386.9 L60.2,388.4 L60.6,389.9 L61.0,391.3 L61.3,392.8 L61.8,394.3 L62.2,395.7 L62.6,397.2 L63.1,398.6 L63.5,400.1 L64.0,401.5 L64.5,403.0 L65.0,404.4 L65.6,405.8 L66.1,407.3 L66.7,408.7 L67.2,410.1 L67.8,411.5 L68.5,412.8 L69.1,414.2 L69.8,415.6 L70.5,417.0 L71.2,418.3 L71.9,419.6 L72.6,421.0 L73.4,422.3 L74.1,423.6 L74.9,424.9 L75.7,426.2 L76.6,427.5 L77.4,428.8 L78.2,430.0 L79.1,431.3 L80.0,432.5 L80.8,433.8 L81.7,435.0 L82.6,436.2 L83.6,437.4 L84.5,438.6 L85.4,439.8 L86.4,441.0 L87.3,442.2 L88.3,443.4 L89.3,444.6 L90.3,445.7 L91.3,446.9 L92.3,448.0 L93.3,449.1 L94.3,450.2 L95.4,451.3 L96.5,452.4 L97.6,453.5 L98.7,454.5 L99.8,455.6 L100.9,456.6 L102.1,457.5 L103.2,458.5 L104.4,459.4 L105.6,460.3 L106.9,461.2 L108.1,462.1 L109.4,462.9 L110.7,463.8 L112.0,464.6 L113.2,465.4 L114.5,466.2 L115.8,467.1 L117.1,467.9 L118.4,468.6 L119.7,469.4 L121.0,470.2 L122.3,470.9 L123.7,471.7 L125.0,472.4 L126.4,473.1 L127.7,473.8 L129.0,474.5 L130.4,475.3 L131.7,476.0 L133.1,476.6 L134.5,477.3 L135.8,478.0 L137.2,478.6 L138.6,479.2 L140.0,479.8 L141.4,480.3 L142.8,480.9 L144.3,481.4 L145.7,482.0 L147.1,482.5 L148.6,483.0 L150.0,483.5 L151.5,484.0 L152.9,484.4 L154.4,484.9 L155.8,485.3 L157.3,485.6 L158.8,486.0 L160.3,486.3 L161.7,486.6 L163.2,486.9 L164.7,487.2 L166.2,487.5 L167.7,487.7 L169.2,488.0 L170.7,488.2 L172.2,488.4 L173.8,488.6 L175.3,488.8 L176.8,489.0 L178.3,489.2 L179.8,489.3 L181.3,489.5 L182.8,489.6 L184.3,489.7 L185.8,489.9 L187.4,490.0 L188.9,490.1 L190.4,490.2 L191.9,490.3 L193.4,490.4 L195.0,490.5 L196.5,490.5 L198.0,490.6" fill="none" stroke="#ff8c00" stroke-width="1.2" stroke-linejoin="round" />
</g>
<rect x="51.6" y="371.8" width="146.1" height="120.30000000000001" fill="none" stroke="#000" stroke-width="1.5"/>
<rect x="138.4" y="378.1" width="50.6" height="68" fill="#fff" stroke="#888" stroke-width="0.6"/>
<path d="M142.1,384.5 H160.9" stroke="#000000" stroke-width="1.1"/>
<text x="165.1" y="386.8" font-size="7" fill="#222" class="t"><tspan font-size="7.6">τ</tspan><tspan font-size="4.7" dy="1.8" dx="-0.3">Q</tspan><tspan dy="-1.8" dx="0.1">=0.5</tspan></text>
<path d="M142.1,393.7 H160.9" stroke="#ff0000" stroke-width="1.1"/>
<text x="165.1" y="396.0" font-size="7" fill="#222" class="t"><tspan font-size="7.6">τ</tspan><tspan font-size="4.7" dy="1.8" dx="-0.3">Q</tspan><tspan dy="-1.8" dx="0.1">=1</tspan></text>
<path d="M142.1,402.9 H160.9" stroke="#00ff00" stroke-width="1.1"/>
<text x="165.1" y="405.2" font-size="7" fill="#222" class="t"><tspan font-size="7.6">τ</tspan><tspan font-size="4.7" dy="1.8" dx="-0.3">Q</tspan><tspan dy="-1.8" dx="0.1">=2</tspan></text>
<path d="M142.1,412.1 H160.9" stroke="#0000ff" stroke-width="1.1"/>
<text x="165.1" y="414.4" font-size="7" fill="#222" class="t"><tspan font-size="7.6">τ</tspan><tspan font-size="4.7" dy="1.8" dx="-0.3">Q</tspan><tspan dy="-1.8" dx="0.1">=4</tspan></text>
<path d="M142.1,421.3 H160.9" stroke="#ffff00" stroke-width="1.1"/>
<text x="165.1" y="423.6" font-size="7" fill="#222" class="t"><tspan font-size="7.6">τ</tspan><tspan font-size="4.7" dy="1.8" dx="-0.3">Q</tspan><tspan dy="-1.8" dx="0.1">=8</tspan></text>
<path d="M142.1,430.5 H160.9" stroke="#bc8f8f" stroke-width="1.1"/>
<text x="165.1" y="432.8" font-size="7" fill="#222" class="t"><tspan font-size="7.6">τ</tspan><tspan font-size="4.7" dy="1.8" dx="-0.3">Q</tspan><tspan dy="-1.8" dx="0.1">=16</tspan></text>
<path d="M142.1,439.7 H160.9" stroke="#ff8c00" stroke-width="1.1"/>
<text x="165.1" y="442.0" font-size="7" fill="#222" class="t"><tspan font-size="7.6">τ</tspan><tspan font-size="4.7" dy="1.8" dx="-0.3">Q</tspan><tspan dy="-1.8" dx="0.1">=32</tspan></text>
<text x="51.6" y="503.6" font-size="9.3" text-anchor="middle" class="s" >0</text>
<text x="100.3" y="503.6" font-size="9.3" text-anchor="middle" class="s" >10</text>
<text x="149.0" y="503.6" font-size="9.3" text-anchor="middle" class="s" >20</text>
<text x="197.7" y="503.6" font-size="9.3" text-anchor="middle" class="s" >30</text>
<text x="44.5" y="495.5" font-size="9.3" text-anchor="end" class="s" >0</text>
<text x="44.5" y="455.4" font-size="9.3" text-anchor="end" class="s" >0.2</text>
<text x="44.5" y="415.3" font-size="9.3" text-anchor="end" class="s" >0.4</text>
<text x="44.5" y="375.2" font-size="9.3" text-anchor="end" class="s" >0.6</text>
<text x="124.9" y="508.3" font-size="10" text-anchor="middle" class="s" >R</text>
<g transform="translate(24.9,440.4) rotate(-90)"><text font-size="10.2" class="s">C</text><text x="7.0" y="-6.2" font-size="5.5" class="s">zz</text></g>
<text x="92.3" y="390.6" font-size="14" text-anchor="middle" class="t" >C</text>
<path d="M293.6,492.1 v-3.8 M293.6,371.8 v3.8 M342.3,492.1 v-3.8 M342.3,371.8 v3.8 M269.2,492.1 v-2.0 M269.2,371.8 v2.0 M317.9,492.1 v-2.0 M317.9,371.8 v2.0 M366.6,492.1 v-2.0 M366.6,371.8 v2.0 M244.9,452.0 h3.8 M391,452.0 h-3.8 M244.9,411.9 h3.8 M391,411.9 h-3.8 M244.9,472.1 h2.0 M391,472.1 h-2.0 M244.9,432.0 h2.0 M391,432.0 h-2.0 M244.9,391.9 h2.0 M391,391.9 h-2.0" stroke="#000" stroke-width="0.45" fill="none"/>
<g clip-path="url(#cD)">
<path d="M250.9,422.0 L251.2,423.5 L251.5,425.0 L251.8,426.5 L252.0,428.0 L252.3,429.5 L252.5,431.0 L252.7,432.5 L252.9,434.0 L253.1,435.5 L253.3,437.0 L253.5,438.5 L253.8,440.0 L254.1,441.5 L254.3,443.0 L254.6,444.6 L254.9,446.1 L255.2,447.6 L255.5,449.1 L255.7,450.6 L256.0,452.1 L256.3,453.6 L256.7,455.0 L257.0,456.5 L257.4,458.0 L257.8,459.5 L258.2,461.0 L258.7,462.5 L259.2,463.9 L259.8,465.4 L260.3,466.9 L260.8,468.3 L261.4,469.8 L262.0,471.3 L262.6,472.7 L263.2,474.1 L263.9,475.6 L264.7,477.0 L265.5,478.4 L266.3,479.8 L267.2,481.2 L268.2,482.5 L269.3,483.8 L270.5,485.1 L271.8,486.3 L273.2,487.4 L274.8,488.4 L276.6,489.3 L278.4,489.9 L280.4,490.5 L282.5,490.9 L284.6,491.2 L286.7,491.3 L288.8,491.5 L290.9,491.6 L293.0,491.7 L295.1,491.7 L297.3,491.8 L299.4,491.8 L301.5,491.8 L303.6,491.8 L305.7,491.8 L307.9,491.8 L310.0,491.8 L312.1,491.8 L314.2,491.8 L316.3,491.9 L318.4,491.9 L320.6,491.9 L322.7,491.9 L324.8,491.9 L326.9,491.9 L329.0,491.9 L331.2,491.9 L333.3,491.9 L335.4,491.9 L337.5,491.9 L339.6,491.9 L341.7,491.9 L343.9,491.9 L346.0,491.9 L348.1,491.9 L350.2,491.9 L352.3,491.9 L354.4,491.9 L356.6,491.9 L358.7,491.9 L360.8,491.9 L362.9,492.0 L365.0,492.0 L367.2,492.0 L369.3,492.0 L371.4,492.0 L373.5,492.0 L375.6,492.0 L377.8,492.0 L379.9,492.0 L382.0,492.0 L384.1,492.0 L386.2,492.0 L388.4,492.0 L390.5,492.0 L392.6,492.0 L394.7,492.0 L396.8,492.0 L398.9,492.0 L401.1,492.0 L403.2,492.0 L405.3,492.0 L407.4,492.0 L409.6,492.0 L411.7,492.0 L413.8,492.0 L415.9,492.0 L418.0,492.0 L420.2,492.0 L422.3,492.0 L424.4,492.0 L426.5,492.0 L428.6,492.0 L430.8,492.0 L432.9,492.0 L435.0,492.0 L437.1,492.0 L439.2,492.0 L441.4,492.0 L443.5,492.0 L445.6,492.0 L447.7,492.0 L449.9,492.0" fill="none" stroke="#000000" stroke-width="1.2" stroke-linejoin="round" />
<path d="M249.2,404.6 L249.4,406.1 L249.5,407.6 L249.7,409.1 L249.9,410.6 L250.1,412.1 L250.3,413.6 L250.5,415.1 L250.7,416.6 L250.9,418.1 L251.1,419.6 L251.4,421.1 L251.6,422.6 L251.9,424.1 L252.1,425.6 L252.4,427.1 L252.6,428.6 L252.8,430.1 L253.0,431.6 L253.3,433.1 L253.5,434.6 L253.7,436.1 L253.9,437.6 L254.2,439.1 L254.4,440.6 L254.6,442.1 L254.9,443.6 L255.1,445.1 L255.4,446.6 L255.6,448.1 L255.9,449.6 L256.2,451.1 L256.5,452.6 L256.8,454.0 L257.1,455.5 L257.5,457.0 L257.8,458.5 L258.2,460.0 L258.5,461.4 L258.9,462.9 L259.3,464.4 L259.7,465.8 L260.1,467.3 L260.6,468.7 L261.1,470.2 L261.6,471.6 L262.2,473.0 L262.8,474.4 L263.3,475.8 L263.9,477.2 L264.6,478.6 L265.2,480.0 L266.0,481.3 L266.8,482.5 L267.7,483.8 L268.7,484.9 L269.8,486.0 L270.9,487.0 L272.1,487.9 L273.4,488.7 L274.8,489.4 L276.2,490.0 L277.7,490.4 L279.1,490.7 L280.6,491.0 L282.1,491.3 L283.6,491.4 L285.2,491.5 L286.7,491.7 L288.2,491.7 L289.7,491.8 L291.2,491.9 L292.7,491.9 L294.3,491.9 L295.8,491.9 L297.3,491.9 L298.8,491.9 L300.3,491.9 L301.8,491.9 L303.3,491.9 L304.9,491.9 L306.4,491.9 L307.9,491.9 L309.4,491.9 L310.9,491.9 L312.4,491.9 L314.0,491.9 L315.5,491.9 L317.0,492.0 L318.5,492.0 L320.0,492.0 L321.5,492.0 L323.0,492.0 L324.6,492.0 L326.1,492.0 L327.6,492.0 L329.1,492.0 L330.6,492.0 L332.1,492.0 L333.7,492.0 L335.2,492.0 L336.7,492.0 L338.2,492.0 L339.7,492.0 L341.2,492.0 L342.8,492.0 L344.3,492.0 L345.8,492.0 L347.3,492.0 L348.8,492.0 L350.3,492.0 L351.9,492.0 L353.4,492.0 L354.9,492.0 L356.4,492.0 L357.9,492.0 L359.4,492.0 L361.0,492.0 L362.5,492.0 L364.0,492.0 L365.5,492.0 L367.0,492.0 L368.5,492.0 L370.1,492.0 L371.6,492.0 L373.1,492.0 L374.6,492.0 L376.1,492.0 L377.6,492.0 L379.2,492.0 L380.7,492.0 L382.2,492.0 L383.7,492.0 L385.2,492.0 L386.7,492.0 L388.3,492.0 L389.8,492.0 L391.3,492.0" fill="none" stroke="#ff0000" stroke-width="1.2" stroke-linejoin="round" />
<path d="M248.0,392.1 L248.2,393.6 L248.3,395.1 L248.5,396.6 L248.6,398.1 L248.8,399.6 L248.9,401.1 L249.1,402.6 L249.2,404.1 L249.4,405.6 L249.5,407.1 L249.7,408.6 L249.8,410.1 L250.0,411.6 L250.2,413.1 L250.3,414.6 L250.5,416.1 L250.6,417.7 L250.8,419.2 L251.0,420.7 L251.1,422.1 L251.3,423.6 L251.5,425.1 L251.7,426.6 L251.9,428.1 L252.1,429.6 L252.3,431.1 L252.5,432.6 L252.7,434.1 L252.9,435.6 L253.2,437.0 L253.4,438.5 L253.7,440.0 L253.9,441.5 L254.2,443.0 L254.4,444.4 L254.7,445.9 L255.0,447.4 L255.2,448.9 L255.5,450.3 L255.8,451.8 L256.1,453.3 L256.4,454.7 L256.7,456.2 L257.0,457.6 L257.4,459.1 L257.7,460.5 L258.1,461.9 L258.5,463.3 L258.9,464.7 L259.4,466.2 L259.8,467.5 L260.2,468.9 L260.7,470.3 L261.2,471.7 L261.7,473.1 L262.2,474.4 L262.8,475.7 L263.4,477.0 L264.0,478.3 L264.7,479.5 L265.4,480.6 L266.1,481.7 L266.9,482.7 L267.8,483.7 L268.7,484.7 L269.6,485.5 L270.5,486.4 L271.4,487.2 L272.4,488.0 L273.4,488.5 L274.5,489.0 L275.5,489.4 L276.6,489.8 L277.7,490.1 L278.8,490.4 L279.9,490.6 L281.0,490.8 L282.1,491.1 L283.2,491.2 L284.3,491.4 L285.4,491.5 L286.5,491.5 L287.7,491.5 L288.8,491.5 L289.9,491.6 L291.0,491.6 L292.1,491.6 L293.2,491.6 L294.3,491.6 L295.4,491.7 L296.5,491.7 L297.6,491.7 L298.7,491.7 L299.8,491.7 L300.9,491.7 L302.0,491.7 L303.1,491.8 L304.2,491.8 L305.4,491.8 L306.5,491.8 L307.6,491.8 L308.7,491.8 L309.8,491.8 L310.9,491.8 L312.0,491.9 L313.1,491.9 L314.2,491.9 L315.3,491.9 L316.4,491.9 L317.5,491.9 L318.7,491.9 L319.8,491.9 L320.9,491.9 L322.0,491.9 L323.1,491.9 L324.2,491.9 L325.3,491.9 L326.4,491.9 L327.5,492.0 L328.6,492.0 L329.8,492.0 L330.9,492.0 L332.0,492.0 L333.1,492.0 L334.2,492.0 L335.3,492.0 L336.4,492.0 L337.5,492.0 L338.7,492.0 L339.8,492.0 L340.9,492.0 L342.0,492.0 L343.1,492.0 L344.2,492.0 L345.3,492.0 L346.5,492.0 L347.6,492.0 L348.7,492.0 L349.8,492.0 L350.9,492.0 L352.0,492.0" fill="none" stroke="#00ff00" stroke-width="1.2" stroke-linejoin="round" />
<path d="M247.1,382.5 L247.2,384.0 L247.3,385.5 L247.5,387.0 L247.6,388.5 L247.7,390.0 L247.8,391.5 L247.9,393.0 L248.1,394.5 L248.2,396.0 L248.3,397.5 L248.5,399.0 L248.6,400.5 L248.7,402.0 L248.9,403.4 L249.0,404.9 L249.2,406.4 L249.3,407.9 L249.5,409.4 L249.6,410.9 L249.8,412.4 L249.9,413.9 L250.1,415.3 L250.2,416.8 L250.4,418.3 L250.6,419.8 L250.7,421.3 L250.9,422.8 L251.0,424.3 L251.2,425.7 L251.4,427.2 L251.6,428.7 L251.8,430.1 L252.0,431.6 L252.2,433.1 L252.4,434.6 L252.6,436.0 L252.8,437.5 L253.0,438.9 L253.2,440.4 L253.4,441.8 L253.7,443.3 L253.9,444.7 L254.2,446.2 L254.4,447.6 L254.7,449.0 L254.9,450.5 L255.2,451.9 L255.5,453.3 L255.8,454.7 L256.1,456.1 L256.5,457.4 L256.8,458.8 L257.1,460.2 L257.5,461.5 L257.8,462.9 L258.2,464.2 L258.6,465.5 L259.0,466.8 L259.4,468.1 L259.9,469.4 L260.3,470.6 L260.8,471.9 L261.2,473.1 L261.7,474.2 L262.2,475.4 L262.8,476.5 L263.4,477.5 L263.9,478.6 L264.5,479.5 L265.2,480.4 L265.8,481.3 L266.4,482.2 L267.1,483.0 L267.8,483.7 L268.5,484.4 L269.2,485.1 L269.9,485.7 L270.6,486.3 L271.3,486.8 L272.1,487.3 L272.8,487.8 L273.6,488.2 L274.3,488.6 L275.1,488.9 L275.9,489.2 L276.6,489.5 L277.4,489.8 L278.2,490.1 L278.9,490.3 L279.7,490.5 L280.5,490.6 L281.3,490.8 L282.0,491.0 L282.8,491.1 L283.6,491.2 L284.4,491.3 L285.2,491.4 L285.9,491.4 L286.7,491.5 L287.5,491.5 L288.3,491.5 L289.1,491.5 L289.8,491.6 L290.6,491.6 L291.4,491.6 L292.2,491.6 L293.0,491.7 L293.7,491.7 L294.5,491.7 L295.3,491.7 L296.1,491.7 L296.9,491.8 L297.6,491.8 L298.4,491.8 L299.2,491.8 L300.0,491.8 L300.8,491.8 L301.5,491.8 L302.3,491.9 L303.1,491.9 L303.9,491.9 L304.7,491.9 L305.4,491.9 L306.2,491.9 L307.0,491.9 L307.8,491.9 L308.6,491.9 L309.3,492.0 L310.1,492.0 L310.9,492.0 L311.7,492.0 L312.5,492.0 L313.3,492.0 L314.0,492.0 L314.8,492.0 L315.6,492.0 L316.4,492.0 L317.2,492.0 L317.9,492.0 L318.7,492.0 L319.5,492.0 L320.3,492.0" fill="none" stroke="#0000ff" stroke-width="1.2" stroke-linejoin="round" />
<path d="M246.5,375.7 L246.5,377.2 L246.6,378.7 L246.7,380.2 L246.8,381.7 L246.9,383.2 L247.0,384.6 L247.1,386.1 L247.2,387.6 L247.3,389.1 L247.4,390.6 L247.5,392.1 L247.6,393.6 L247.7,395.1 L247.8,396.5 L247.9,398.0 L248.0,399.5 L248.1,401.0 L248.2,402.5 L248.3,403.9 L248.4,405.4 L248.6,406.9 L248.7,408.3 L248.8,409.8 L249.0,411.3 L249.1,412.7 L249.3,414.2 L249.4,415.6 L249.6,417.1 L249.7,418.5 L249.9,419.9 L250.1,421.4 L250.2,422.8 L250.4,424.3 L250.6,425.7 L250.8,427.1 L251.0,428.5 L251.1,430.0 L251.3,431.4 L251.5,432.8 L251.7,434.3 L251.9,435.7 L252.1,437.1 L252.2,438.5 L252.4,439.9 L252.6,441.3 L252.8,442.7 L253.1,444.1 L253.3,445.5 L253.5,446.9 L253.7,448.3 L253.9,449.6 L254.2,451.0 L254.4,452.3 L254.7,453.7 L255.0,455.0 L255.2,456.3 L255.5,457.6 L255.8,458.9 L256.1,460.1 L256.4,461.4 L256.7,462.6 L257.1,463.8 L257.4,465.0 L257.7,466.2 L258.1,467.3 L258.5,468.5 L258.8,469.6 L259.2,470.7 L259.6,471.8 L260.0,472.9 L260.4,473.9 L260.8,474.8 L261.2,475.8 L261.6,476.7 L262.1,477.6 L262.5,478.4 L263.0,479.2 L263.5,480.0 L263.9,480.7 L264.4,481.4 L264.9,482.1 L265.4,482.8 L265.9,483.4 L266.4,484.0 L266.9,484.5 L267.4,485.0 L267.9,485.5 L268.5,486.0 L269.0,486.5 L269.5,486.9 L270.0,487.3 L270.6,487.7 L271.1,488.1 L271.6,488.4 L272.2,488.7 L272.7,489.0 L273.2,489.3 L273.8,489.5 L274.3,489.7 L274.8,490.0 L275.4,490.2 L275.9,490.3 L276.5,490.5 L277.0,490.6 L277.5,490.8 L278.1,490.9 L278.6,491.0 L279.2,491.2 L279.7,491.3 L280.3,491.4 L280.8,491.5 L281.4,491.5 L281.9,491.6 L282.4,491.6 L283.0,491.6 L283.5,491.7 L284.1,491.7 L284.6,491.7 L285.2,491.7 L285.7,491.8 L286.3,491.8 L286.8,491.8 L287.3,491.8 L287.9,491.8 L288.4,491.9 L289.0,491.9 L289.5,491.9 L290.1,491.9 L290.6,491.9 L291.2,491.9 L291.7,491.9 L292.2,492.0 L292.8,492.0 L293.3,492.0 L293.9,492.0 L294.4,492.0 L295.0,492.0 L295.5,492.0 L296.1,492.0 L296.6,492.0 L297.1,492.0 L297.7,492.0" fill="none" stroke="#ffff00" stroke-width="1.2" stroke-linejoin="round" />
<path d="M245.9,366.0 L245.9,367.5 L246.0,369.0 L246.0,370.5 L246.1,372.0 L246.2,373.5 L246.2,375.0 L246.3,376.4 L246.4,377.9 L246.4,379.4 L246.5,380.9 L246.6,382.4 L246.7,383.9 L246.7,385.4 L246.8,386.8 L246.9,388.3 L247.0,389.8 L247.1,391.3 L247.1,392.7 L247.2,394.2 L247.3,395.7 L247.4,397.1 L247.5,398.6 L247.6,400.1 L247.7,401.5 L247.8,403.0 L247.9,404.5 L248.0,405.9 L248.1,407.4 L248.2,408.8 L248.3,410.2 L248.5,411.7 L248.6,413.1 L248.7,414.5 L248.8,416.0 L249.0,417.4 L249.1,418.8 L249.2,420.2 L249.4,421.6 L249.5,423.0 L249.7,424.4 L249.8,425.8 L250.0,427.2 L250.1,428.6 L250.3,429.9 L250.5,431.3 L250.6,432.7 L250.8,434.0 L251.0,435.4 L251.1,436.7 L251.3,438.1 L251.5,439.4 L251.7,440.8 L251.9,442.1 L252.1,443.4 L252.2,444.7 L252.4,446.0 L252.6,447.3 L252.8,448.6 L253.0,449.8 L253.3,451.1 L253.5,452.3 L253.7,453.6 L253.9,454.8 L254.2,456.0 L254.4,457.2 L254.7,458.3 L254.9,459.4 L255.2,460.5 L255.5,461.5 L255.7,462.6 L256.0,463.6 L256.3,464.6 L256.6,465.6 L256.9,466.6 L257.2,467.5 L257.5,468.5 L257.8,469.4 L258.1,470.3 L258.4,471.2 L258.7,472.1 L259.0,473.0 L259.3,473.8 L259.7,474.6 L260.0,475.5 L260.3,476.3 L260.6,477.1 L261.0,477.9 L261.3,478.6 L261.6,479.3 L262.0,480.0 L262.3,480.5 L262.7,481.1 L263.0,481.7 L263.4,482.2 L263.7,482.7 L264.1,483.2 L264.5,483.7 L264.8,484.1 L265.2,484.5 L265.6,485.0 L265.9,485.4 L266.3,485.7 L266.7,486.1 L267.1,486.4 L267.4,486.7 L267.8,487.0 L268.2,487.3 L268.5,487.6 L268.9,487.9 L269.3,488.2 L269.7,488.4 L270.1,488.7 L270.4,488.9 L270.8,489.1 L271.2,489.3 L271.6,489.5 L272.0,489.6 L272.3,489.8 L272.7,489.9 L273.1,490.0 L273.5,490.2 L273.9,490.3 L274.2,490.4 L274.6,490.5 L275.0,490.6 L275.4,490.7 L275.8,490.8 L276.1,490.9 L276.5,491.0 L276.9,491.0 L277.3,491.1 L277.7,491.1 L278.0,491.2 L278.4,491.3 L278.8,491.3 L279.2,491.4 L279.6,491.4 L280.0,491.5 L280.3,491.5 L280.7,491.5 L281.1,491.6 L281.5,491.6 L281.9,491.6" fill="none" stroke="#bc8f8f" stroke-width="1.2" stroke-linejoin="round" />
<path d="M245.7,366.0 L245.7,367.5 L245.7,369.0 L245.8,370.5 L245.8,372.0 L245.9,373.5 L245.9,375.0 L246.0,376.5 L246.0,378.0 L246.1,379.5 L246.1,381.0 L246.2,382.5 L246.2,383.9 L246.3,385.4 L246.4,386.9 L246.4,388.4 L246.5,389.9 L246.6,391.3 L246.6,392.8 L246.7,394.3 L246.8,395.7 L246.8,397.2 L246.9,398.6 L247.0,400.1 L247.1,401.5 L247.2,403.0 L247.3,404.4 L247.4,405.8 L247.5,407.3 L247.6,408.7 L247.7,410.1 L247.8,411.5 L247.9,412.8 L248.0,414.2 L248.1,415.6 L248.2,417.0 L248.4,418.3 L248.5,419.6 L248.6,421.0 L248.7,422.3 L248.9,423.6 L249.0,424.9 L249.2,426.2 L249.3,427.5 L249.5,428.8 L249.6,430.0 L249.8,431.3 L249.9,432.5 L250.1,433.8 L250.2,435.0 L250.4,436.2 L250.6,437.4 L250.7,438.6 L250.9,439.8 L251.0,441.0 L251.2,442.2 L251.4,443.4 L251.6,444.6 L251.7,445.7 L251.9,446.9 L252.1,448.0 L252.3,449.1 L252.5,450.2 L252.6,451.3 L252.8,452.4 L253.0,453.5 L253.2,454.5 L253.4,455.6 L253.6,456.6 L253.8,457.5 L254.0,458.5 L254.2,459.4 L254.5,460.3 L254.7,461.2 L254.9,462.1 L255.1,462.9 L255.3,463.8 L255.6,464.6 L255.8,465.4 L256.0,466.2 L256.3,467.1 L256.5,467.9 L256.7,468.6 L256.9,469.4 L257.2,470.2 L257.4,470.9 L257.6,471.7 L257.9,472.4 L258.1,473.1 L258.4,473.8 L258.6,474.5 L258.8,475.3 L259.1,476.0 L259.3,476.6 L259.5,477.3 L259.8,478.0 L260.0,478.6 L260.3,479.2 L260.5,479.8 L260.8,480.3 L261.0,480.9 L261.3,481.4 L261.5,482.0 L261.8,482.5 L262.0,483.0 L262.3,483.5 L262.6,484.0 L262.8,484.4 L263.1,484.9 L263.3,485.3 L263.6,485.6 L263.8,486.0 L264.1,486.3 L264.4,486.6 L264.6,486.9 L264.9,487.2 L265.2,487.5 L265.4,487.7 L265.7,488.0 L266.0,488.2 L266.2,488.4 L266.5,488.6 L266.8,488.8 L267.0,489.0 L267.3,489.2 L267.6,489.3 L267.8,489.5 L268.1,489.6 L268.4,489.7 L268.6,489.9 L268.9,490.0 L269.2,490.1 L269.4,490.2 L269.7,490.3 L270.0,490.4 L270.2,490.5 L270.5,490.5 L270.8,490.6" fill="none" stroke="#ff8c00" stroke-width="1.2" stroke-linejoin="round" />
</g>
<rect x="244.9" y="371.8" width="146.1" height="120.30000000000001" fill="none" stroke="#000" stroke-width="1.5"/>
<text x="244.9" y="503.6" font-size="9.3" text-anchor="middle" class="s" >0</text>
<text x="293.6" y="503.6" font-size="9.3" text-anchor="middle" class="s" >10</text>
<text x="342.3" y="503.6" font-size="9.3" text-anchor="middle" class="s" >20</text>
<text x="391.0" y="503.6" font-size="9.3" text-anchor="middle" class="s" >30</text>
<text x="238.6" y="495.5" font-size="9.3" text-anchor="end" class="s" >0</text>
<text x="238.6" y="455.4" font-size="9.3" text-anchor="end" class="s" >0.2</text>
<text x="238.6" y="415.3" font-size="9.3" text-anchor="end" class="s" >0.4</text>
<text x="238.6" y="375.2" font-size="9.3" text-anchor="end" class="s" >0.6</text>
<text x="302.5" y="508.3" font-size="10" class="s">R/(<tspan font-size="9.3">τ</tspan><tspan font-size="6" dy="2">Q</tspan><tspan dy="-2">)</tspan><tspan font-size="5.5" dy="-4.7" dx="0.2" fill="#555">1/2</tspan></text>
<g transform="translate(218.3,440.4) rotate(-90)"><text font-size="10.2" class="s">C</text><text x="7.0" y="-6.2" font-size="5.5" class="s">zz</text></g>
<text x="270.8" y="391" font-size="14" text-anchor="middle" class="t" >D</text>
</svg>
</body></html>
